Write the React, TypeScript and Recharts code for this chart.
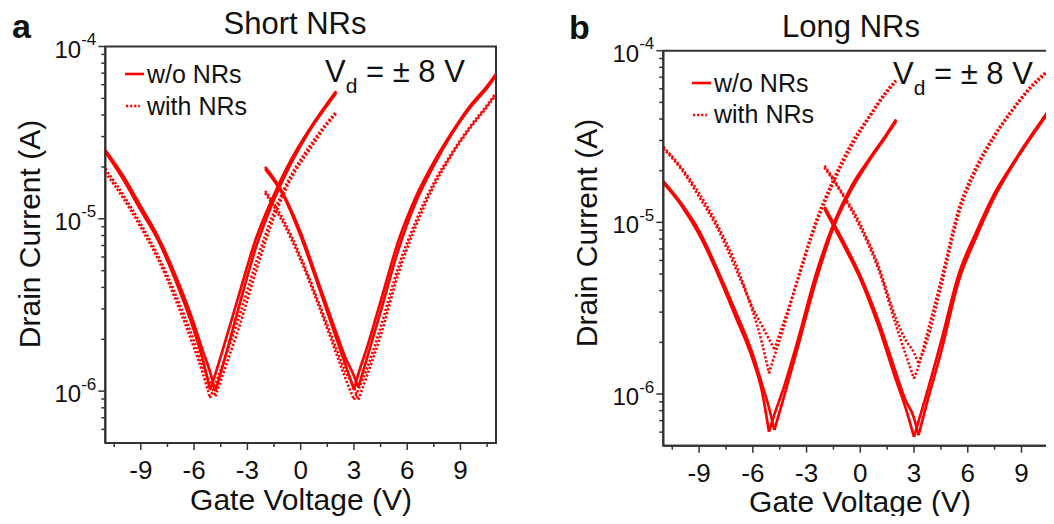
import React from 'react';
import { LineChart, Line, XAxis, YAxis, ReferenceArea } from 'recharts';

const FONT = '"Liberation Sans", Arial, Helvetica, sans-serif';
const RED = '#ff0000';
const AXIS = '#333333';
const INK = '#111111';

// gate voltage sampling (V) for the two branches of each Vd sweep
const vgLeft = [-11, -10, -9, -8, -7, -6, -5.5, -5.1, -4.8, -4.3, -3.5, -2.5, -1.5, -0.5, 0.5, 1.5, 2];
const vgRight = [-2, -1, 0, 1, 2, 2.5, 3, 3.25, 3.7, 4.5, 5.5, 6.5, 7.5, 8.5, 9.5, 10.5, 11];

// drain current (A) - short NRs
const shortBareLeftFwd = [2.45e-5, 1.7e-5, 1.12e-5, 7.41e-6, 4.27e-6, 2.24e-6, 1.51e-6, 1.02e-6, 1.26e-6, 1.86e-6, 3.55e-6, 7.76e-6, 1.38e-5, 2.24e-5, 3.31e-5, 4.68e-5, 5.5e-5];
const shortBareLeftRev = [2.51e-5, 1.78e-5, 1.18e-5, 7.76e-6, 4.57e-6, 2.45e-6, 1.7e-6, 1.29e-6, 1.0e-6, 1.51e-6, 3.02e-6, 6.92e-6, 1.29e-5, 2.14e-5, 3.24e-5, 4.57e-5, 5.37e-5];
const shortNrLeftFwd = [1.86e-5, 1.32e-5, 8.91e-6, 5.75e-6, 3.31e-6, 1.78e-6, 1.26e-6, 9.12e-7, 1.1e-6, 1.51e-6, 2.63e-6, 5.62e-6, 1.1e-5, 1.82e-5, 2.63e-5, 3.63e-5, 4.17e-5];
const shortNrLeftRev = [1.95e-5, 1.38e-5, 9.33e-6, 6.03e-6, 3.55e-6, 1.95e-6, 1.38e-6, 1.12e-6, 9.33e-7, 1.32e-6, 2.29e-6, 5.01e-6, 1.02e-5, 1.74e-5, 2.51e-5, 3.55e-5, 4.07e-5];
const shortBareRightFwd = [1.95e-5, 1.38e-5, 7.94e-6, 4.07e-6, 2.04e-6, 1.45e-6, 1.02e-6, 1.26e-6, 1.74e-6, 3.31e-6, 7.41e-6, 1.35e-5, 2.14e-5, 3.16e-5, 4.47e-5, 5.89e-5, 6.92e-5];
const shortBareRightRev = [2.0e-5, 1.41e-5, 8.32e-6, 4.27e-6, 2.19e-6, 1.58e-6, 1.23e-6, 1.05e-6, 1.51e-6, 2.88e-6, 6.61e-6, 1.26e-5, 2.04e-5, 3.09e-5, 4.37e-5, 5.75e-5, 6.76e-5];
const shortNrRightFwd = [1.41e-5, 9.55e-6, 5.75e-6, 3.16e-6, 1.66e-6, 1.2e-6, 8.91e-7, 1.02e-6, 1.32e-6, 2.34e-6, 5.25e-6, 9.77e-6, 1.62e-5, 2.4e-5, 3.39e-5, 4.57e-5, 5.37e-5];
const shortNrRightRev = [1.45e-5, 1.0e-5, 6.03e-6, 3.31e-6, 1.78e-6, 1.32e-6, 1.05e-6, 8.91e-7, 1.2e-6, 2.09e-6, 4.79e-6, 9.12e-6, 1.55e-5, 2.34e-5, 3.31e-5, 4.47e-5, 5.25e-5];

// drain current (A) - long NRs
const longBareLeftFwd = [1.7e-5, 1.26e-5, 8.51e-6, 5.13e-6, 2.88e-6, 1.58e-6, 1.05e-6, 6.03e-7, 7.59e-7, 1.07e-6, 2.04e-6, 4.9e-6, 9.77e-6, 1.62e-5, 2.34e-5, 3.31e-5, 3.98e-5];
const longBareLeftRev = [1.74e-5, 1.29e-5, 8.91e-6, 5.37e-6, 3.09e-6, 1.7e-6, 1.15e-6, 8.32e-7, 6.17e-7, 9.33e-7, 1.86e-6, 4.47e-6, 9.33e-6, 1.55e-5, 2.29e-5, 3.24e-5, 3.89e-5];
const longNrLeftFwd = [2.69e-5, 2.04e-5, 1.41e-5, 9.33e-6, 5.5e-6, 3.02e-6, 2.0e-6, 1.32e-6, 1.66e-6, 2.4e-6, 4.68e-6, 1.0e-5, 1.78e-5, 2.88e-5, 4.17e-5, 5.89e-5, 6.76e-5];
const longNrLeftRev = [2.75e-5, 2.09e-5, 1.48e-5, 9.77e-6, 5.89e-6, 3.16e-6, 2.51e-6, 2.09e-6, 1.82e-6, 2.57e-6, 4.57e-6, 9.55e-6, 1.7e-5, 2.75e-5, 4.07e-5, 5.75e-5, 6.61e-5];
const longBareRightFwd = [1.2e-5, 7.59e-6, 4.68e-6, 2.51e-6, 1.2e-6, 8.51e-7, 5.62e-7, 6.92e-7, 1.0e-6, 2.0e-6, 5.01e-6, 8.91e-6, 1.48e-5, 2.19e-5, 3.16e-5, 4.47e-5, 5.37e-5];
const longBareRightRev = [1.23e-5, 7.94e-6, 4.9e-6, 2.69e-6, 1.32e-6, 9.33e-7, 7.24e-7, 5.75e-7, 8.71e-7, 1.74e-6, 4.57e-6, 8.32e-6, 1.41e-5, 2.14e-5, 3.09e-5, 4.37e-5, 5.25e-5];
const longNrRightFwd = [2.09e-5, 1.45e-5, 9.33e-6, 5.37e-6, 2.51e-6, 1.74e-6, 1.23e-6, 1.45e-6, 2.19e-6, 4.57e-6, 1.2e-5, 2.14e-5, 3.24e-5, 4.57e-5, 6.17e-5, 7.76e-5, 8.71e-5];
const longNrRightRev = [2.14e-5, 1.48e-5, 9.77e-6, 5.62e-6, 2.75e-6, 2.09e-6, 1.74e-6, 1.51e-6, 2.0e-6, 4.17e-6, 1.12e-5, 2.04e-5, 3.16e-5, 4.47e-5, 6.03e-5, 7.59e-5, 8.51e-5];

// axis ticks
const xTicks = [-10.5, -9, -7.5, -6, -4.5, -3, -1.5, 0, 1.5, 3, 4.5, 6, 7.5, 9, 10.5];
const yTicks = [
  6e-7, 7e-7, 8e-7, 9e-7,
  1e-6, 2e-6, 3e-6, 4e-6, 5e-6, 6e-6, 7e-6, 8e-6, 9e-6,
  1e-5, 2e-5, 3e-5, 4e-5, 5e-5, 6e-5, 7e-5, 8e-5, 9e-5, 1e-4,
];

type Sweep = { v: number[]; i: number[]; dotted: boolean };

const shortSweeps: Sweep[] = [
  { v: vgLeft, i: shortBareLeftFwd, dotted: false },
  { v: vgLeft, i: shortBareLeftRev, dotted: false },
  { v: vgLeft, i: shortNrLeftFwd, dotted: true },
  { v: vgLeft, i: shortNrLeftRev, dotted: true },
  { v: vgRight, i: shortBareRightFwd, dotted: false },
  { v: vgRight, i: shortBareRightRev, dotted: false },
  { v: vgRight, i: shortNrRightFwd, dotted: true },
  { v: vgRight, i: shortNrRightRev, dotted: true },
];

const longSweeps: Sweep[] = [
  { v: vgLeft, i: longBareLeftFwd, dotted: false },
  { v: vgLeft, i: longBareLeftRev, dotted: false },
  { v: vgLeft, i: longNrLeftFwd, dotted: true },
  { v: vgLeft, i: longNrLeftRev, dotted: true },
  { v: vgRight, i: longBareRightFwd, dotted: false },
  { v: vgRight, i: longBareRightRev, dotted: false },
  { v: vgRight, i: longNrRightFwd, dotted: true },
  { v: vgRight, i: longNrRightRev, dotted: true },
];

const DOTS = '2.2 1.9';

// split each sweep at its current minimum so the V tip stays sharp
// while the arms are drawn as smooth curves
function arms(s: Sweep) {
  const rows = s.v.map((v, j) => ({ v, i: s.i[j] }));
  let m = 0;
  s.i.forEach((val, j) => {
    if (val < s.i[m]) m = j;
  });
  return [rows.slice(0, m + 1), rows.slice(m)];
}

const XTick = (props: any) => {
  const { x, y, payload } = props;
  const major = Number.isInteger(payload.value);
  return (
    <g>
      <line x1={x} x2={x} y1={y} y2={y + (major ? 7 : 4)} stroke={AXIS} strokeWidth={1.5} />
      {major && (
        <text x={x} y={y + 36} textAnchor="middle" fontFamily={FONT} fontSize={26} fill={INK}>
          {payload.value}
        </text>
      )}
    </g>
  );
};

const YTick = (props: any) => {
  const { x, y, payload } = props;
  const lg = Math.log10(payload.value);
  const e = Math.round(lg);
  const major = Math.abs(lg - e) < 1e-6;
  return (
    <g>
      <line x1={x - (major ? 7 : 4)} x2={x} y1={y} y2={y} stroke={AXIS} strokeWidth={1.5} />
      {major && (
        <text x={x - 9} y={y + 11} textAnchor="end" fontFamily={FONT} fontSize={24} fill={INK}>
          10
          <tspan dy={-12.5} fontSize={17}>
            {e}
          </tspan>
        </text>
      )}
    </g>
  );
};

function Panel({ sweeps, left, width, margin }: { sweeps: Sweep[]; left: number; width: number; margin: any }) {
  return (
    <div style={{ position: 'absolute', left, top: 0 }}>
      <LineChart width={width} height={524} margin={margin}>
        <XAxis
          type="number"
          dataKey="v"
          domain={[-11, 11]}
          ticks={xTicks}
          interval={0}
          tickSize={0}
          tickMargin={0}
          tick={XTick}
          height={60}
          axisLine={{ stroke: AXIS, strokeWidth: 2 }}
          allowDataOverflow
        />
        <YAxis
          type="number"
          scale="log"
          domain={[5e-7, 1e-4]}
          ticks={yTicks}
          interval={0}
          tickSize={0}
          tickMargin={0}
          tick={YTick}
          width={60}
          axisLine={{ stroke: AXIS, strokeWidth: 2 }}
          allowDataOverflow
        />
        {sweeps.flatMap((s, k) =>
          arms(s).map((rows, h) => (
            <Line
              key={`${k}-${h}`}
              data={rows}
              dataKey="i"
              type="monotoneX"
              stroke={RED}
              strokeWidth={s.dotted ? 2.6 : 2.7}
              strokeDasharray={s.dotted ? DOTS : undefined}
              dot={false}
              activeDot={false}
              isAnimationActive={false}
            />
          ))
        )}
        <ReferenceArea x1={-11} x2={11} y1={5e-7} y2={1e-4} fill="none" stroke={AXIS} strokeWidth={2} />
      </LineChart>
    </div>
  );
}

function Texts() {
  const t = { fontFamily: FONT, fill: INK };
  return (
    <svg width={1054} height={524} style={{ position: 'absolute', left: 0, top: 0, pointerEvents: 'none' }}>
      {/* panel a */}
      <text x={12} y={38} fontSize={34} fontWeight="bold" {...t}>a</text>
      <text x={295} y={34} fontSize={31} textAnchor="middle" {...t}>Short NRs</text>
      <line x1={125} x2={144} y1={74} y2={74} stroke={RED} strokeWidth={2.6} />
      <text x={147} y={83} fontSize={25} {...t}>w/o NRs</text>
      <line x1={126} x2={140} y1={106} y2={106} stroke={RED} strokeWidth={2.6} strokeDasharray={DOTS} />
      <text x={147} y={115} fontSize={25} {...t}>with NRs</text>
      <text x={325} y={82} fontSize={31} {...t}>
        V<tspan dy={11} fontSize={21}>d</tspan>
        <tspan dy={-11} fontSize={31}> = ± 8 V</tspan>
      </text>
      <text x={40} y={234} fontSize={30} textAnchor="middle" transform="rotate(-90 40 234)" {...t}>Drain Current (A)</text>
      <text x={301} y={510} fontSize={30} textAnchor="middle" {...t}>Gate Voltage (V)</text>

      {/* panel b */}
      <text x={569} y={39} fontSize={34} fontWeight="bold" {...t}>b</text>
      <text x={851} y={37} fontSize={31} textAnchor="middle" {...t}>Long NRs</text>
      <line x1={692} x2={711} y1={83} y2={83} stroke={RED} strokeWidth={2.6} />
      <text x={714} y={92} fontSize={25} {...t}>w/o NRs</text>
      <line x1={693} x2={707} y1={115} y2={115} stroke={RED} strokeWidth={2.6} strokeDasharray={DOTS} />
      <text x={714} y={123} fontSize={25} {...t}>with NRs</text>
      <text x={893} y={84} fontSize={31} {...t}>
        V<tspan dy={11} fontSize={21}>d</tspan>
        <tspan dy={-11} fontSize={31}> = ± 8 V</tspan>
      </text>
      <text x={597} y={233} fontSize={30} textAnchor="middle" transform="rotate(-90 597 233)" {...t}>Drain Current (A)</text>
      <text x={860} y={512} fontSize={30} textAnchor="middle" {...t}>Gate Voltage (V)</text>
    </svg>
  );
}

export default function App() {
  return (
    <div
      style={{
        position: 'relative',
        width: 1054,
        height: 524,
        margin: -8,
        overflow: 'hidden',
        background: '#ffffff',
        fontFamily: FONT,
      }}
    >
      <Panel sweeps={shortSweeps} left={0} width={530} margin={{ top: 46.5, right: 34, bottom: 21, left: 45.3 }} />
      <Panel sweeps={longSweeps} left={530} width={540} margin={{ top: 50.7, right: 12.7, bottom: 18.3, left: 73.3 }} />
      <Texts />
    </div>
  );
}
